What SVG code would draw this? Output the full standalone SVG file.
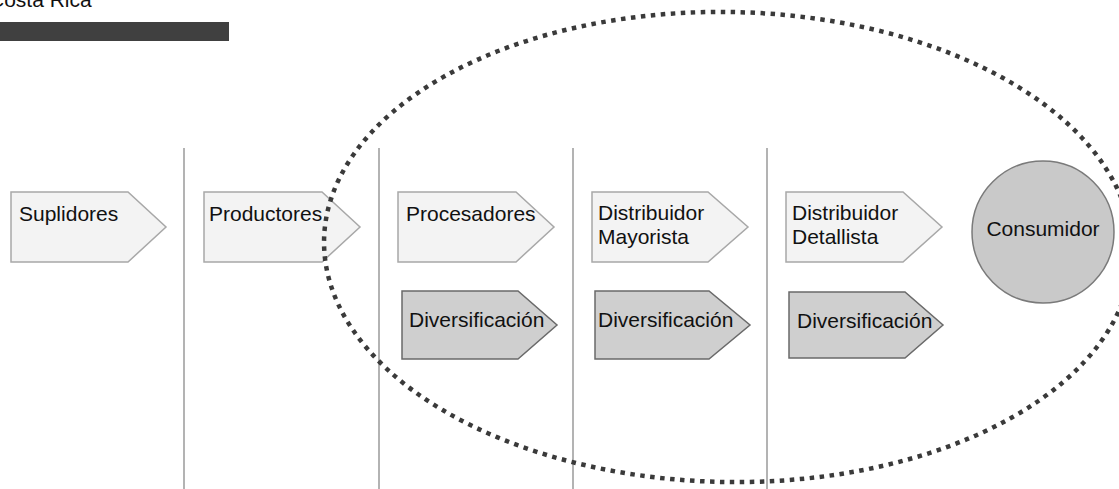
<svg xmlns="http://www.w3.org/2000/svg" width="1119" height="489" viewBox="0 0 1119 489">
  <style>
    text { font-family: "Liberation Sans", Arial, sans-serif; font-size: 21px; fill: #111; }
    .light { fill: #f3f3f3; stroke: #a8a8a8; stroke-width: 1.5; }
    .dark { fill: #cfcfcf; stroke: #6a6a6a; stroke-width: 1.5; }
    .sep { stroke: #9a9a9a; stroke-width: 1.5; fill: none; }
    .dots { fill: none; stroke: #3a3a3a; stroke-width: 4.5; stroke-dasharray: 4.5 5.5; }
  </style>
  <rect width="1119" height="489" fill="#fff"/>

  <g id="title">
    <text x="-11" y="7">Costa Rica</text>
    <rect x="0" y="22" width="229" height="19" fill="#404040"/>
  </g>

  <g id="separators">
    <line class="sep" x1="184" y1="148" x2="184" y2="489"/>
    <line class="sep" x1="379" y1="148" x2="379" y2="489"/>
    <line class="sep" x1="573" y1="148" x2="573" y2="489"/>
    <line class="sep" x1="767" y1="148" x2="767" y2="489"/>
  </g>

  <g id="suplidores">
    <polygon class="light" points="11,192 128,192 166,227 128,262 11,262"/>
    <text x="19" y="221">Suplidores</text>
  </g>
  <g id="productores">
    <polygon class="light" points="204,192 322,192 360,227 322,262 204,262"/>
    <text x="209" y="221">Productores</text>
  </g>
  <g id="procesadores">
    <polygon class="light" points="398,192 516,192 554,227 516,262 398,262"/>
    <text x="406" y="221">Procesadores</text>
  </g>
  <g id="diversificacion1">
    <polygon class="dark" points="402,291 518,291 557,325 518,359 402,359"/>
    <text x="409" y="327">Diversificación</text>
  </g>
  <g id="mayorista">
    <polygon class="light" points="592,192 708,192 748,227 708,262 592,262"/>
    <text x="598" y="220">Distribuidor</text>
    <text x="598" y="244">Mayorista</text>
  </g>
  <g id="diversificacion2">
    <polygon class="dark" points="595,291 709,291 750,325 709,359 595,359"/>
    <text x="598" y="327">Diversificación</text>
  </g>
  <g id="detallista">
    <polygon class="light" points="786,192 903,192 942,227 903,262 786,262"/>
    <text x="792" y="220">Distribuidor</text>
    <text x="792" y="244">Detallista</text>
  </g>
  <g id="diversificacion3">
    <polygon class="dark" points="789,292 905,292 943,325 905,358 789,358"/>
    <text x="797" y="328">Diversificación</text>
  </g>
  <g id="consumidor">
    <circle cx="1043" cy="232" r="71" fill="#c9c9c9" stroke="#7a7a7a" stroke-width="1.5"/>
    <text x="1043" y="236" text-anchor="middle">Consumidor</text>
  </g>

  <g id="connectors">
    <ellipse class="dots" cx="728" cy="247" rx="404" ry="235" transform="rotate(1 728 247)"/>
  </g>
</svg>
